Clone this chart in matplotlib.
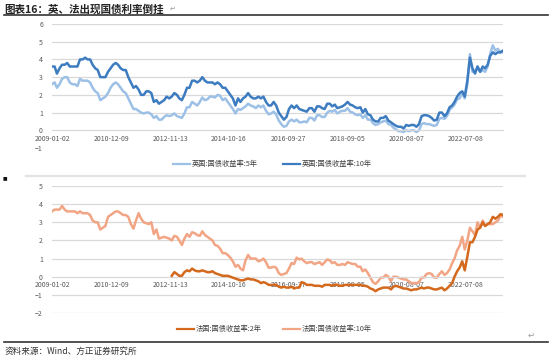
import matplotlib
matplotlib.use("Agg")
import matplotlib.pyplot as plt
from matplotlib.lines import Line2D
import pandas as pd
import numpy as np

plt.rcParams['font.family'] = ['Noto Sans CJK SC', 'DejaVu Sans']

# ---------------- data (monthly readings, 2009-01 .. 2023-10) ----------------
uk_start = "2009-01-01"
uk_5y = [
    2.6, 2.7, 2.4, 2.6, 2.9, 3.0, 3.0, 2.7, 2.6, 2.6, 2.5, 2.9,
    2.8, 2.8, 2.8, 2.7, 2.4, 2.2, 2.1, 1.7, 1.8, 1.9, 2.1, 2.4,
    2.6, 2.7, 2.6, 2.4, 2.2, 2.1, 1.8, 1.5, 1.2, 1.2, 1.1, 1.0,
    0.95, 1.0, 1.0, 0.9, 0.7, 0.8, 0.6, 0.6, 0.75, 0.85, 0.8, 0.85,
    0.95, 0.8, 0.75, 0.7, 0.95, 1.3, 1.3, 1.6, 1.5, 1.4, 1.6, 1.85,
    1.7, 1.75, 1.9, 1.9, 1.85, 2.0, 1.95, 1.7, 1.8, 1.6, 1.4, 1.2,
    0.95, 1.2, 1.15, 1.25, 1.35, 1.5, 1.4, 1.35, 1.25, 1.4, 1.3, 1.4,
    1.1, 0.9, 0.95, 1.05, 0.9, 0.55, 0.35, 0.2, 0.25, 0.5, 0.6, 0.5,
    0.6, 0.45, 0.45, 0.5, 0.45, 0.7, 0.7, 0.55, 0.85, 0.85, 0.75, 0.75,
    1.0, 1.1, 1.05, 1.15, 0.95, 1.05, 1.1, 1.1, 1.25, 1.05, 1.0, 0.9,
    0.85, 0.9, 0.7, 0.85, 0.6, 0.6, 0.4, 0.3, 0.35, 0.45, 0.5, 0.55,
    0.35, 0.3, 0.15, 0.05, -0.05, -0.05, -0.1, 0.0, -0.05, 0.0, 0.0, -0.1,
    0.0, 0.35, 0.4, 0.35, 0.35, 0.3, 0.25, 0.3, 0.65, 0.7, 0.65, 0.8,
    1.15, 1.3, 1.45, 1.75, 1.8, 2.1, 1.8, 2.6, 4.3, 3.3, 3.3, 3.6,
    3.3, 3.4, 3.3, 3.6, 4.3, 4.8, 4.5, 4.6, 4.4, 4.4,
]
uk_10y = [
    3.6, 3.6, 3.2, 3.5, 3.7, 3.7, 3.8, 3.6, 3.6, 3.6, 3.6, 4.0,
    4.0, 4.1, 4.0, 4.0, 3.7, 3.5, 3.4, 3.0, 3.0, 3.0, 3.3, 3.5,
    3.7, 3.8, 3.7, 3.5, 3.4, 3.4, 3.0, 2.7, 2.4, 2.5, 2.3, 2.0,
    2.0, 2.2, 2.2, 2.1, 1.6, 1.7, 1.5, 1.6, 1.7, 1.9, 1.8, 1.9,
    2.1, 2.0, 1.8, 1.7, 2.0, 2.4, 2.4, 2.8, 2.8, 2.7, 2.8, 3.0,
    2.8, 2.7, 2.7, 2.7, 2.6, 2.7, 2.6, 2.4, 2.4, 2.2, 2.0, 1.8,
    1.4, 1.8, 1.6, 1.8, 1.9, 2.1, 1.9, 1.8, 1.8, 1.9, 1.8, 1.9,
    1.6, 1.4, 1.4, 1.6, 1.4, 1.0, 0.8, 0.6, 0.75, 1.2, 1.4, 1.25,
    1.4, 1.2, 1.15, 1.1, 1.05, 1.25, 1.25, 1.05, 1.35, 1.35, 1.25, 1.2,
    1.5, 1.5, 1.35, 1.45, 1.25, 1.3, 1.35, 1.45, 1.6, 1.45, 1.4, 1.3,
    1.25, 1.3, 1.0, 1.2, 0.9, 0.85, 0.6, 0.5, 0.5, 0.7, 0.7, 0.8,
    0.55, 0.45, 0.35, 0.25, 0.2, 0.2, 0.1, 0.3, 0.25, 0.3, 0.3, 0.2,
    0.35, 0.8, 0.85, 0.85, 0.8, 0.7, 0.55, 0.6, 1.0, 1.0, 0.8, 0.95,
    1.3, 1.4, 1.6, 1.9, 2.1, 2.2, 1.9, 2.8, 4.1, 3.5, 3.2, 3.6,
    3.3, 3.6, 3.5, 3.7, 4.2, 4.4, 4.3, 4.4, 4.4, 4.5,
]
fr_start = "2009-01-01"
fr_10y = [
    3.6, 3.7, 3.7, 3.7, 3.9, 3.7, 3.6, 3.6, 3.6, 3.6, 3.5, 3.6,
    3.5, 3.5, 3.5, 3.4, 3.1, 3.0, 3.0, 2.6, 2.7, 2.8, 3.3, 3.4,
    3.5, 3.6, 3.6, 3.5, 3.4, 3.4, 3.3, 2.9, 2.65, 3.1, 3.5, 3.2,
    3.0, 2.95, 2.9, 3.0, 2.35, 2.6, 2.1, 2.15, 2.2, 2.15, 2.1, 2.0,
    2.25, 2.2, 2.0, 1.75, 2.1, 2.35, 2.2, 2.45, 2.4, 2.3, 2.25, 2.5,
    2.3, 2.2, 2.1, 2.0, 1.75, 1.7, 1.55, 1.3, 1.3, 1.2, 1.05, 0.85,
    0.55, 0.65, 0.45, 0.35, 0.9, 1.2, 1.0, 1.0, 1.0, 0.85, 0.9, 1.0,
    0.8, 0.5, 0.5, 0.55, 0.5, 0.2, 0.1, 0.15, 0.2, 0.45, 0.75, 0.7,
    1.05, 0.95, 1.0, 0.85, 0.75, 0.8, 0.8, 0.7, 0.75, 0.8, 0.65, 0.8,
    0.95, 0.9, 0.75, 0.8, 0.65, 0.65, 0.7, 0.65, 0.8, 0.75, 0.7, 0.7,
    0.55, 0.55, 0.3, 0.4, 0.2, -0.05, -0.3, -0.4, -0.25, -0.05, -0.05, 0.1,
    0.0, -0.25, 0.0, 0.0, -0.05, -0.1, -0.15, -0.15, -0.25, -0.35, -0.35, -0.35,
    -0.3, -0.05, -0.05, 0.15, 0.2, 0.15, -0.05, -0.05, 0.15, 0.3, 0.1, 0.2,
    0.4, 0.75, 1.0, 1.45, 1.7, 2.2, 1.5, 2.0, 2.7, 2.5, 2.3, 3.0,
    2.7, 3.1, 2.8, 2.9, 2.9, 2.9, 3.0, 3.1, 3.35, 3.3,
]
fr2_start = "2012-12-01"
fr_2y = [
    0.05,
    0.25, 0.15, 0.05, 0.05, 0.25, 0.35, 0.3, 0.45, 0.35, 0.3, 0.3, 0.35,
    0.3, 0.25, 0.25, 0.3, 0.2, 0.15, 0.1, 0.05, 0.05, 0.05, 0.0, -0.05,
    -0.1, -0.15, -0.2, -0.2, -0.15, -0.1, -0.15, -0.15, -0.2, -0.25, -0.35, -0.3,
    -0.35, -0.45, -0.45, -0.45, -0.45, -0.55, -0.6, -0.55, -0.6, -0.6, -0.55, -0.65,
    -0.6, -0.6, -0.3, -0.35, -0.45, -0.45, -0.45, -0.5, -0.5, -0.5, -0.55, -0.45,
    -0.45, -0.45, -0.5, -0.45, -0.45, -0.5, -0.5, -0.45, -0.45, -0.45, -0.45, -0.45,
    -0.45, -0.45, -0.5, -0.5, -0.55, -0.65, -0.7, -0.8, -0.7, -0.65, -0.6, -0.6,
    -0.6, -0.7, -0.55, -0.5, -0.55, -0.6, -0.65, -0.65, -0.7, -0.75, -0.7, -0.7,
    -0.65, -0.6, -0.65, -0.6, -0.6, -0.65, -0.7, -0.7, -0.65, -0.6, -0.75, -0.65,
    -0.5, -0.35, 0.0, 0.3, 0.5, 0.85, 0.35, 1.1, 1.9, 1.9, 2.2, 2.6,
    2.7, 3.0, 2.8, 2.9, 3.0, 3.3, 3.2, 3.3, 3.45, 3.4,
]
tick_labels = ["2009-01-02", "2010-12-09", "2012-11-13", "2014-10-16",
               "2016-09-27", "2018-09-05", "2020-08-07", "2022-07-08"]
legend_uk = ["英国:国债收益率:5年", "英国:国债收益率:10年"]
legend_fr = ["法国:国债收益率:2年", "法国:国债收益率:10年"]
title = "图表16：英、法出现国债利率倒挂"
source = "资料来源：Wind、方正证券研究所"

# ---------------- styling ----------------
C_UK5 = "#9DC0E6"
C_UK10 = "#3D7CC0"
C_FR2 = "#D4691E"
C_FR10 = "#F2A584"
GRID = "#D9D9D9"
TXT = "#595959"
LW = 1.8

W, H = 550, 358
fig = plt.figure(figsize=(W / 100, H / 100), dpi=100)
fig.patch.set_facecolor("white")


def fx(px):
    return px / W


def fy(py):
    return 1 - py / H


uk_dates = pd.date_range(uk_start, periods=len(uk_10y), freq="MS")
fr_dates = pd.date_range(fr_start, periods=len(fr_10y), freq="MS")
fr2_dates = pd.date_range(fr2_start, periods=len(fr_2y), freq="MS")
ticks = pd.to_datetime(tick_labels)


def style_axis(ax, ylo, yhi, grid_from):
    ax.set_xlim(uk_dates[0], uk_dates[-1])
    ax.set_ylim(ylo, yhi)
    ax.set_yticks(range(ylo, yhi + 1))
    for v in range(grid_from, yhi + 1):
        if v != 0:
            ax.axhline(v, color=GRID, lw=0.9, zorder=0)
    for s in ["top", "right", "left"]:
        ax.spines[s].set_visible(False)
    ax.spines["bottom"].set_position(("data", 0))
    ax.spines["bottom"].set_color(GRID)
    ax.spines["bottom"].set_linewidth(0.9)
    ax.set_xticks(ticks)
    ax.set_xticklabels(tick_labels)
    ax.tick_params(axis="x", length=0, pad=3.2, labelsize=5.0, labelcolor=TXT)
    ax.tick_params(axis="y", length=0, pad=6.5, labelsize=5.0, labelcolor=TXT)
    ax.set_facecolor("none")


# top chart
ax1 = fig.add_axes([fx(52), fy(148), fx(503) - fx(52), fy(24) - fy(148)])
ax1.plot(uk_dates, uk_5y, color=C_UK5, lw=LW, zorder=2)
ax1.plot(uk_dates, uk_10y, color=C_UK10, lw=LW, zorder=3)
style_axis(ax1, -1, 6, 0)

# bottom chart
ax2 = fig.add_axes([fx(52), fy(313), fx(503) - fx(52), fy(186) - fy(313)])
ax2.plot(fr_dates, fr_10y, color=C_FR10, lw=LW, zorder=2)
ax2.plot(fr2_dates, fr_2y, color=C_FR2, lw=LW, zorder=3)
style_axis(ax2, -2, 5, -2)

# legends (manual)
def legend_item(x0, y, color, label):
    fig.add_artist(Line2D([fx(x0), fx(x0 + 17)], [fy(y), fy(y)], color=color, lw=1.6))
    fig.text(fx(x0 + 19), fy(y), label, fontsize=5.2, color="#404040", va="center", ha="left")

legend_item(173, 164, C_UK5, legend_uk[0])
legend_item(283, 164, C_UK10, legend_uk[1])
legend_item(177, 329, C_FR2, legend_fr[0])
legend_item(283, 329, C_FR10, legend_fr[1])

# title and rules
fig.text(fx(4), fy(9), title, fontsize=7.6, fontweight="bold", color="#222222",
         va="center", ha="left")
fig.text(fx(170), fy(9), "↵", fontsize=5, color="#999999", va="center", ha="left",
         family=["DejaVu Sans"])
fig.add_artist(Line2D([fx(4), fx(548)], [fy(14.5), fy(14.5)], color="#333333", lw=1.2))
fig.add_artist(Line2D([fx(26), fx(525)], [fy(176), fy(176)], color="#E3E3E3", lw=1.6))
fig.text(fx(3), fy(178), "■", fontsize=3.5, color="#111111", va="center", ha="left",
         family=["DejaVu Sans"])
fig.text(fx(528), fy(335), "↵", fontsize=6, color="#999999", va="center", ha="left",
         family=["DejaVu Sans"])
fig.add_artist(Line2D([fx(4), fx(548)], [fy(342), fy(342)], color="#333333", lw=1.2))
fig.text(fx(5), fy(351.5), source, fontsize=6.2, color="#333333", va="center", ha="left",
         style="italic")

fig.savefig("out.png", dpi=100, facecolor="white")
